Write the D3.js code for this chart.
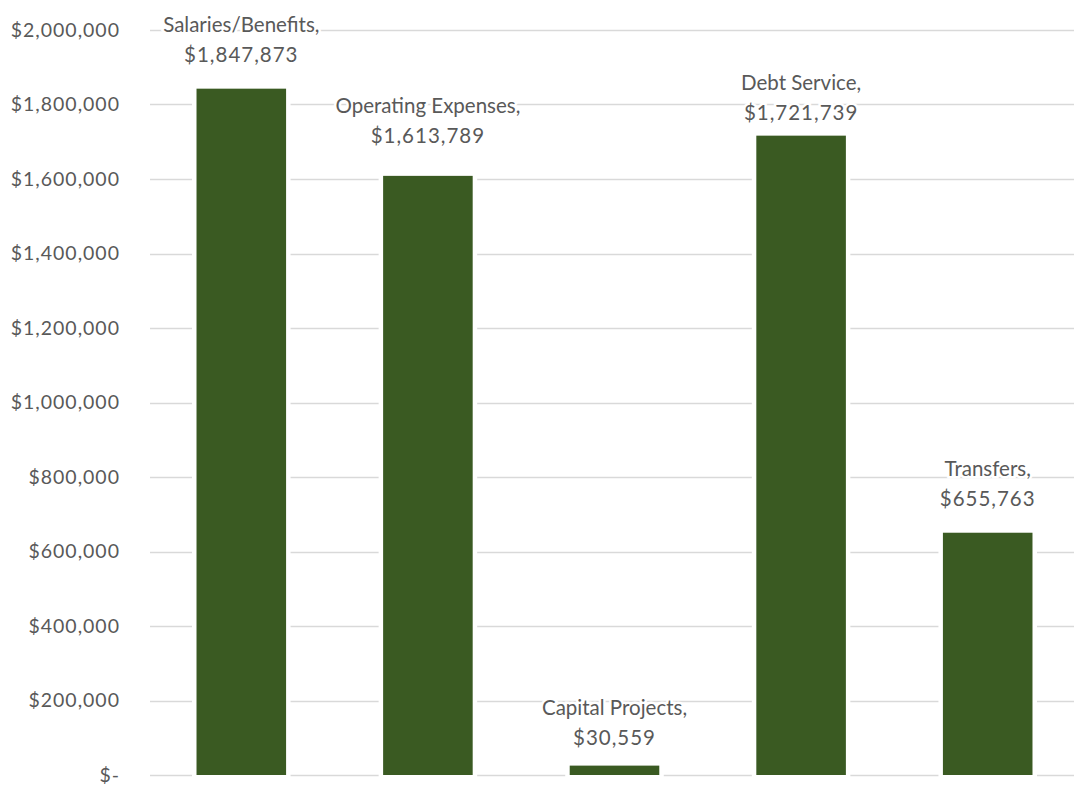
<!DOCTYPE html>
<html>
<head>
<meta charset="utf-8">
<script src="https://cdn.jsdelivr.net/npm/d3@7"></script>
<style>
  body { margin: 0; background: #fff; }
  text { font-family: Lato, "Open Sans", sans-serif; fill: #595959; }
</style>
</head>
<body>
<div id="chart"></div>
<script>
// chart data
const categories = ["Salaries/Benefits", "Operating Expenses", "Capital Projects", "Debt Service", "Transfers"];
const amounts = [1847873, 1613789, 30559, 1721739, 655763];
const tickValues = [0, 200000, 400000, 600000, 800000, 1000000, 1200000, 1400000, 1600000, 1800000, 2000000];

((() => {

  let width = 1074;
  let height = 789;

  // hand placed labels in the original, small shifts in px
  let labelNudge = { "Operating Expenses": -6, "Capital Projects": 6, "Debt Service": 11 };

  let svg = d3
    .select("#chart")
    .append("svg")
    .attr("width", width)
    .attr("height", height);

  let x = d3.scaleBand()
    .domain(categories)
    .range([148, 1081])
    .paddingInner(0.52)
    .paddingOuter(0.26);

  let y = d3.scaleLinear()
    .domain([0, 2000000])
    .range([775, 30]);

  let money = d3.format(",");
  let tickText = (d) => d === 0 ? "$-" : "$" + money(d);

  // gridlines
  svg.append("g")
    .selectAll("line")
    .data(tickValues)
    .enter()
    .append("line")
    .attr("x1", 150)
    .attr("x2", width)
    .attr("y1", (d) => Math.round(y(d)) + 0.5)
    .attr("y2", (d) => Math.round(y(d)) + 0.5)
    .attr("stroke", "#d9d9d9")
    .attr("stroke-width", 1.3);

  // y axis, no domain line
  let yAxis = svg.append("g")
    .attr("transform", "translate(120,0)")
    .call(d3.axisLeft(y).tickValues(tickValues).tickFormat(tickText).tickSize(0).tickPadding(0));
  yAxis.select(".domain").remove();
  yAxis.selectAll("text")
    .style("font-size", "19.5px")
    .style("font-family", "Lato, sans-serif")
    .style("letter-spacing", "1px")
    .attr("fill", "#595959");

  // bars, white stroke under the fill leaves the little gap seen around them
  svg.append("g")
    .selectAll("rect")
    .data(amounts)
    .enter()
    .append("rect")
    .attr("x", (d, i) => x(categories[i]))
    .attr("y", (d) => y(d) + 2)
    .attr("width", x.bandwidth())
    .attr("height", (d) => y(0) - y(d) - 2)
    .attr("fill", "#3a5a22")
    .attr("stroke", "#fff")
    .attr("stroke-width", 9)
    .style("paint-order", "stroke");

  // data labels: category, then value
  let labels = svg.append("g")
    .selectAll("text")
    .data(amounts)
    .enter()
    .append("text")
    .attr("text-anchor", "middle")
    .style("font-size", "20.5px")
    .attr("stroke", "#fff")
    .attr("stroke-width", 5)
    .style("paint-order", "stroke")
    .attr("transform", (d, i) => {
      let cx = x(categories[i]) + x.bandwidth() / 2;
      let by = y(d) - 25 + (labelNudge[categories[i]] || 0);
      return "translate(" + cx + "," + by + ")";
    });

  labels.append("tspan")
    .attr("x", 0)
    .attr("y", -30)
    .text((d, i) => categories[i] + ",");

  labels.append("tspan")
    .attr("x", 0)
    .attr("y", 0)
    .style("letter-spacing", "1px")
    .text((d) => "$" + money(d));

})());
</script>
</body>
</html>
